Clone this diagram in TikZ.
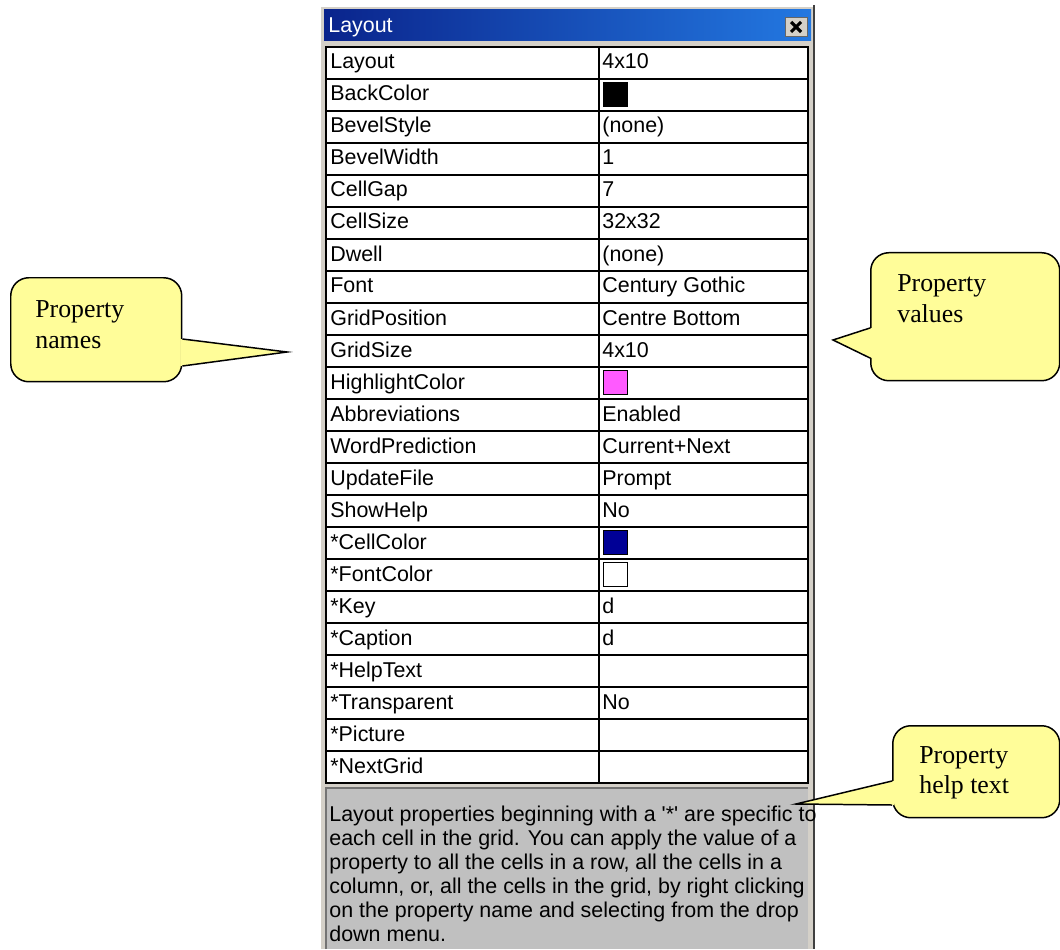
\documentclass[tikz,border=0pt]{standalone}
\usepackage{fontspec}
\setmainfont{Liberation Serif}
\newfontfamily\uifont{Liberation Sans}
\usetikzlibrary{positioning}
\usetikzlibrary{calc}

\definecolor{notefill}{RGB}{255,253,153}
\definecolor{framegray}{RGB}{212,208,200}
\definecolor{helpgray}{RGB}{192,192,192}
\definecolor{titledark}{RGB}{10,36,140}
\definecolor{titlelight}{RGB}{35,120,225}
\definecolor{hilite}{RGB}{255,90,255}
\definecolor{cellnavy}{RGB}{0,0,150}

\begin{document}
\begin{tikzpicture}[x=0.02cm,y=-0.02cm,
  cell text/.style={anchor=base west,inner sep=0pt,font=\uifont\fontsize{12.2}{14}\selectfont},
  note box/.style={draw,line width=0.85pt,fill=notefill,rounded corners=0.36cm,anchor=north west},
  note text/.style={anchor=base west,inner sep=0pt,font=\fontsize{14.7}{17.6}\selectfont},
  swatch/.style={draw,line width=0.6pt,minimum width=0.48cm,minimum height=0.48cm,inner sep=0pt,anchor=north west}]

\useasboundingbox (0,0) rectangle (1060,949);

% window frame and title bar
\fill[framegray] (319,5) rectangle (815,949);
\draw[white,line width=1pt] (320,949) -- (320,6) -- (813,6);
\draw[black!75,line width=1.5pt] (814,5) -- (814,949);
\shade[left color=titledark,right color=titlelight] (324,10) rectangle (811,41);
\node[cell text,text=white] (title) at (328,33) {Layout};
\node[draw=black!60,fill=framegray,minimum width=0.44cm,minimum height=0.38cm,inner sep=0pt] (close) at (796,27) {};
\draw[line width=1.8pt] ($(close.center)+(-5,-5)$) -- ($(close.center)+(5,5)$)
                        ($(close.center)+(5,-5)$) -- ($(close.center)+(-5,5)$);

% property table
\fill[white] (326,47) rectangle (808,783);
\foreach \i in {1,...,22}
  \draw[line width=0.9pt] (326,{47+32*\i}) -- (808,{47+32*\i});
\draw[line width=0.9pt] (599,47) -- (599,783);
\draw[line width=1.2pt] (326,47) rectangle (808,783);

\foreach \name/\val [count=\i from 0] in {Layout/4x10, BackColor/, BevelStyle/(none),
    BevelWidth/1, CellGap/7, CellSize/32x32, Dwell/(none), Font/Century Gothic,
    GridPosition/Centre Bottom, GridSize/4x10, HighlightColor/, Abbreviations/Enabled,
    WordPrediction/Current+Next, UpdateFile/Prompt, ShowHelp/No, *CellColor/,
    *FontColor/, *Key/d, *Caption/d, *HelpText/, *Transparent/No, *Picture/, *NextGrid/}
{
  \node[cell text] (name\i) at (330,{69+32*\i}) {\name};
  \node[cell text] (val\i) at (602,{69+32*\i}) {\val};
}

% colour swatches
\node[swatch,fill=black] (backcolor) at (603,82) {};
\node[swatch,fill=hilite] (highlight) at (603,370) {};
\node[swatch,fill=cellnavy] (cellcolor) at (603,530) {};
\node[swatch,fill=white] (fontcolor) at (603,562) {};

% help text
\fill[helpgray] (326,788) rectangle (808,949);
\draw[black!55,line width=0.8pt] (326,949) -- (326,788) -- (808,788);
\foreach \line [count=\k from 0] in {Layout properties beginning with a '*' are specific to,
    each cell in the grid. You can apply the value of a,
    {property to all the cells in a row, all the cells in a},
    {column, or, all the cells in the grid, by right clicking},
    on the property name and selecting from the drop,
    down menu.}
  \node[cell text] (help\k) at (329,{821+24.1*\k}) {\line};

% callouts
\node[note box,minimum width=3.42cm,minimum height=2.08cm] (names box) at (10,277) {};
\coordinate (names tip) at (287,352);
\fill[notefill] ($(names box.north east)+(-2,62)$) -- (names tip) -- ($(names box.north east)+(-2,89)$) -- cycle;
\draw[line width=0.85pt] ($(names box.north east)+(0,62)$) -- (names tip) -- ($(names box.north east)+(0,89)$);
\node[note text] (names line1) at (35,317) {Property};
\node[note text] (names line2) at (35,348) {names};

\node[note box,minimum width=3.78cm,minimum height=2.56cm] (values box) at (870,252) {};
\coordinate (values tip) at (833,340);
\fill[notefill] ($(values box.north west)+(2,76)$) -- (values tip) -- ($(values box.north west)+(2,106)$) -- cycle;
\draw[line width=0.85pt] ($(values box.north west)+(0,76)$) -- (values tip) -- ($(values box.north west)+(0,106)$);
\node[note text] (values line1) at (897,292) {Property};
\node[note text] (values line2) at (897,322) {values};

\node[note box,minimum width=3.34cm,minimum height=1.84cm] (help box) at (892,725) {};
\coordinate (help tip) at (796,804);
\fill[notefill] ($(help box.north west)+(2,56)$) -- (help tip) -- ($(help box.north west)+(2,80)$) -- cycle;
\draw[line width=0.85pt] ($(help box.north west)+(0,56)$) -- (help tip) -- ($(help box.north west)+(0,80)$);
\node[note text] (help line1) at (919,763) {Property};
\node[note text] (help line2) at (919,793) {help text};

\end{tikzpicture}
\end{document}
